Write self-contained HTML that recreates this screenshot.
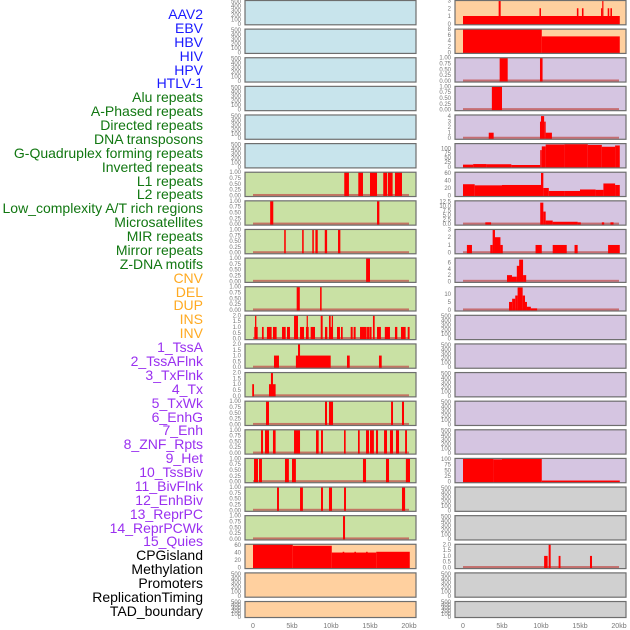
<!DOCTYPE html>
<html><head><meta charset="utf-8">
<style>
html,body{margin:0;padding:0;background:#fff;}
#wrap{position:relative;width:630px;height:630px;overflow:hidden;font-family:"Liberation Sans",sans-serif;}
.lab{position:absolute;right:427px;font-size:14px;line-height:16px;white-space:nowrap;}
</style></head>
<body>
<div id="wrap">
<svg id="svg" width="630" height="630" style="position:absolute;left:0;top:0"></svg>
</div>
<script>
// ----- track labels -----
const labelNames = ["AAV2","EBV","HBV","HIV","HPV","HTLV-1","Alu repeats","A-Phased repeats","Directed repeats","DNA transposons","G-Quadruplex forming repeats","Inverted repeats","L1 repeats","L2 repeats","Low_complexity A/T rich regions","Microsatellites","MIR repeats","Mirror repeats","Z-DNA motifs","CNV","DEL","DUP","INS","INV","1_TssA","2_TssAFlnk","3_TxFlnk","4_Tx","5_TxWk","6_EnhG","7_Enh","8_ZNF_Rpts","9_Het","10_TssBiv","11_BivFlnk","12_EnhBiv","13_ReprPC","14_ReprPCWk","15_Quies","CPGisland","Methylation","Promoters","ReplicationTiming","TAD_boundary"];
const labelGroups = ["v","v","v","v","v","v","r","r","r","r","r","r","r","r","r","r","r","r","r","s","s","s","s","s","c","c","c","c","c","c","c","c","c","c","c","c","c","c","c","k","k","k","k","k"];
// x ticks (kb)
const xTicks = [0,5,10,15,20];
const xTickLabels = ["0","5kb","10kb","15kb","20kb"];
// tick sets
const tk500 = [0,100,200,300,400,500];
const tk1 = [0,0.25,0.5,0.75,1];
const tk2 = [0,0.5,1,1.5,2];
// left column series: [start kb, end kb, value]
const L6 = [[11.7,12.3,1],[13.5,14.1,1],[15.0,15.9,1],[16.7,17.2,1],[17.3,17.9,1],[18.2,19.1,1]];
const L7 = [[2.2,2.6,1],[15.9,16.2,1]];
const L8 = [[4.0,4.2,1],[6.3,6.5,1],[7.6,7.8,1],[8.0,8.3,1],[9.2,9.5,1],[10.9,11.2,1]];
const L9 = [[14.5,15.0,1]];
const L10 = [[5.6,6.0,1],[8.6,8.8,1]];
const L11 = [[0.17,0.6,1],[0.26,0.43,2],[1.15,1.37,1],[1.79,2.39,1],[2.56,3.03,1],[3.72,4.19,1],[4.36,4.74,1],[5.26,5.77,2],[6.03,6.54,1],[6.79,7.14,1],[6.88,7.0,2],[7.39,7.95,1],[8.68,8.93,2],[9.23,9.53,1],[9.74,10.26,1],[9.74,9.96,2],[10.09,10.26,2],[10.77,11.15,1],[11.28,11.5,1],[12.52,12.78,1],[12.9,13.16,1],[13.72,14.57,1],[14.62,14.96,1],[15.0,15.2,1],[15.38,15.6,2],[15.9,16.4,1],[16.9,17.56,1],[18.2,18.5,1],[18.97,19.57,1],[19.83,20.08,1]];
const L12 = [[2.69,3.33,1],[5.5,9.96,1],[5.77,6.03,2],[12.05,12.4,1],[16.15,16.5,1]];
const L13 = [[-0.1,0.13,1],[2.05,2.9,1],[2.3,2.56,2]];
const L14 = [[1.67,2.05,1],[9.23,9.49,1],[9.74,10.26,1],[17.7,17.95,1],[19.1,19.36,1]];
const L15 = [[1.03,1.28,1],[1.54,2.05,1],[2.56,2.9,1],[5.26,6.03,1],[8.08,8.42,1],[8.72,8.97,1],[11.67,11.88,1],[13.46,13.68,1],[14.49,14.87,1],[15.0,15.5,1],[15.77,16.03,1],[16.8,17.18,1],[17.56,17.95,1],[18.33,18.72,1],[19.5,19.74,1]];
const L16 = [[0.13,0.64,1],[0.77,1.15,1],[4.1,4.6,1],[5.0,5.5,1],[14.1,14.49,1],[17.05,17.44,1],[19.6,20.13,1]];
const L17 = [[3.08,3.33,1],[6.03,6.4,1],[8.72,8.97,1],[9.74,10.13,1],[11.67,11.92,1],[19.1,19.5,1]];
const L18 = [[11.54,11.8,1]];
const L19 = [[0,5.1,62],[5.1,10.1,58],[10.1,15.8,40],[11.5,11.7,42],[13,13.2,42],[14.5,14.7,42],[15.8,20.1,42]];
// right column series
const R0 = [[0,20.1,1],[4.57,4.83,3],[9.8,10.0,2],[14.6,14.8,2],[15.25,15.45,2],[17.7,17.85,2],[17.85,18.0,3],[18.55,18.75,2],[18.9,19.1,2]];
const R1 = [[0,10.1,8],[10.1,20.1,5.5]];
const R2 = [[4.7,5.73,1],[9.87,10.2,1]];
const R3 = [[3.7,5.0,1]];
const R4 = [[3.3,3.93,1],[9.87,10.0,3],[10.0,10.4,4],[10.4,10.6,3],[10.6,11.4,1]];
const R5 = [[0,1.3,12],[1.3,3.0,15],[3.0,6.2,14],[6.2,9.9,10],[9.9,10.1,90],[10.1,10.6,110],[10.6,13,120],[13,16,122],[16,17.8,118],[17.8,19.5,108],[19.5,20.1,115]];
const R6 = [[0,1.5,30],[1.5,5,27],[5,10,28],[10.0,10.3,60],[10.3,11,20],[11,13,12],[13,15,12],[15,17,16],[17,18,15],[18,19.5,32],[19.5,20.1,28]];
const R7 = [[2.86,3.6,1],[9.9,10.3,12],[10.3,10.6,7],[10.6,11.5,2],[11.5,14.7,1.3],[14.7,15.1,1],[17.8,18.1,1],[18.9,19.3,1]];
const R8 = [[0.5,1.15,1],[3.5,3.8,1],[3.8,4.1,3],[4.1,4.8,2],[4.8,5.1,1],[9.3,10.1,1],[11.5,13.3,1],[14.3,14.7,1],[18.6,20.1,1]];
const R9 = [[5.64,6.28,2],[6.28,6.9,1.5],[6.9,7.3,5],[7.2,7.7,7],[7.7,8.1,2]];
const R10 = [[5.9,6.3,5],[6.3,6.7,7],[6.7,7.0,9],[7.0,7.65,14],[7.65,7.95,9],[7.95,8.2,5],[8.2,8.7,2],[8.7,9.5,1]];
const R16 = [[0,3.9,100],[3.9,5,98],[5,7.5,100],[6.8,7.3,95],[7.5,10.1,100],[10.1,20.1,5]];
const R19 = [[10.4,10.85,1],[10.98,11.24,2],[12.26,12.5,1],[16.28,16.54,1]];

const BL="#c8e4ec",GR="#c9e1a4",OR="#ffd09f",PU="#d5c5e1",GY="#d0d0d0";
const panels=[];
function P(col,row,bg,ymax,ticks,fmt,bars,base){panels.push({col,row,bg,ymax,ticks,fmt,bars,base});}
for(let r=0;r<6;r++)P(0,r,BL,520,tk500,0,[],false);
const Ls=[L6,L7,L8,L9,L10,L11,L12,L13,L14,L15,L16,L17,L18];
for(let i=0;i<13;i++){const r=6+i;const two=(r>=11&&r<=13);P(0,r,GR,two?2:1,two?tk2:tk1,two?1:2,Ls[i],true);}
P(0,19,OR,62,[0,20,40,60],0,L19,false);
P(0,20,OR,520,tk500,0,[],false);P(0,21,OR,520,tk500,0,[],false);
P(1,0,OR,3,[0,1,2,3],0,R0,false);
P(1,1,OR,8,[0,2,4,6,8],0,R1,false);
P(1,2,PU,1,tk1,2,R2,true);P(1,3,PU,1,tk1,2,R3,true);
P(1,4,PU,4.2,[0,1,2,3,4],0,R4,true);
P(1,5,PU,125,[0,25,50,75,100],0,R5,false);
P(1,6,PU,62,[0,20,40,60],0,R6,false);
P(1,7,PU,13,[0,2.5,5,7.5,10,12.5],1,R7,true);
P(1,8,PU,3,[0,1,2,3],0,R8,true);
P(1,9,PU,7.5,[0,2,4,6],0,R9,true);
P(1,10,PU,14.5,[0,5,10],0,R10,true);
for(let r=11;r<16;r++)P(1,r,PU,520,tk500,0,[],false);
P(1,16,PU,102,[0,25,50,75,100],0,R16,false);
P(1,17,GY,520,tk500,0,[],false);P(1,18,GY,520,tk500,0,[],false);
P(1,19,GY,2,tk2,1,R19,true);
P(1,20,GY,520,tk500,0,[],false);P(1,21,GY,520,tk500,0,[],false);

const NS="http://www.w3.org/2000/svg";
const svg=document.getElementById('svg');
function mk(t,a,p){const e=document.createElementNS(NS,t);for(const k in a)e.setAttribute(k,a[k]);(p||svg).appendChild(e);return e;}
const colX=[245,455],colW=171,kbPx=7.8,x0=[253,463];
function xs(col,kb){return x0[col]+kb*kbPx;}
panels.forEach(p=>{
  const top=p.row*28.62+0.5, h=p.row===21?16:24.3, left=colX[p.col];
  const g=mk('g',{});
  
  
  const ymin=-0.045*p.ymax, bot=top+h;
  const ys=v=>bot-(v-ymin)/(p.ymax-ymin)*h;
  const bg=mk('rect',{x:left,y:top,width:colW,height:h,fill:p.bg},g);
  
  
  if(p.base){const bl=mk('rect',{x:xs(p.col,0),y:ys(0)-1.5,width:20*kbPx,height:2,fill:'#c0504d',opacity:0.75},g);
    
    }
  p.bars.forEach(b=>{const x1=xs(p.col,b[0]),x2=xs(p.col,b[1]);const y=Math.max(top,ys(b[2]));
    const r=mk('rect',{x:x1,y:y,width:Math.max(1.2,x2-x1),height:bot-y,fill:'#ff0000'},g);
    
    });
  const fr=mk('rect',{x:left,y:top,width:colW,height:h,fill:'none',stroke:'#6e6e6e','stroke-width':1.2},g);
  
  
  p.ticks.forEach(t=>{const y=ys(t);if(y<top-2)return;
    const tx=mk('text',{x:left-4,y:y+2,'font-size':6,fill:'#777','text-anchor':'end','font-family':'Liberation Sans, sans-serif'},g);
    tx.textContent=t.toFixed(p.fmt);
    
    });
});
[0,1].forEach(c=>{xTicks.forEach((t,i)=>{
  const tx=mk('text',{x:xs(c,t),y:628,'font-size':7,fill:'#777','text-anchor':'middle','font-family':'Liberation Sans, sans-serif'});
  tx.textContent=xTickLabels[i];
  
  });});
const colors={v:"#1a1aff",r:"#117711",s:"#ffaa22",c:"#9a30f0",k:"#000000"};
const wrap=document.getElementById('wrap');
labelNames.forEach((n,i)=>{const d=document.createElement('div');d.className='lab';
  d.style.top=(6+i*13.88)+'px';d.style.color=colors[labelGroups[i]];d.textContent=n;
  
  
  wrap.appendChild(d);});
</script>
</body></html>
